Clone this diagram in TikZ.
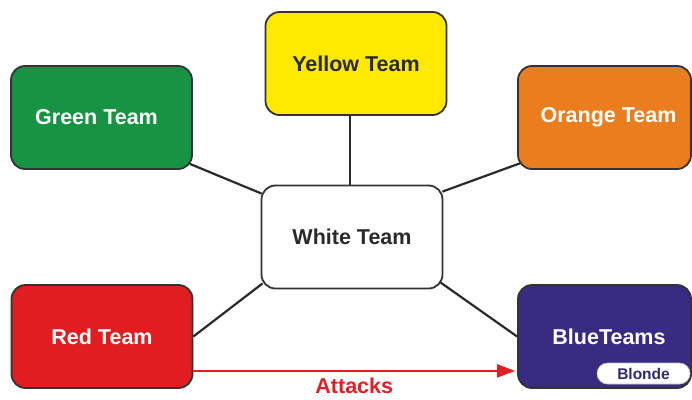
\documentclass[tikz,border=0pt]{standalone}
\usepackage{fontspec}
\setmainfont{Liberation Sans}
\usetikzlibrary{arrows.meta,backgrounds}
\definecolor{cgreen}{HTML}{169443}
\definecolor{cyellow}{HTML}{FFE900}
\definecolor{corange}{HTML}{EA7E1E}
\definecolor{cred}{HTML}{E01E22}
\definecolor{cblue}{HTML}{372C82}
\definecolor{cborder}{HTML}{333333}
\definecolor{ctext}{HTML}{2A2A2A}
\definecolor{carrow}{HTML}{E31E24}
\definecolor{cnavy}{HTML}{2E2A6E}
\tikzset{
  teambox/.style={draw=cborder, line width=1.8pt, rounded corners=14pt,
    minimum width=181pt, minimum height=103pt, inner sep=0pt,
    font=\fontsize{21.5}{25}\selectfont\bfseries},
  linkline/.style={draw=ctext, line width=2.2pt},
}
\begin{document}
\begin{tikzpicture}[x=1pt,y=-1pt]
\useasboundingbox (0,0) rectangle (692,399);
\node[teambox, fill=cyellow, text=ctext] (yellow) at (356,63.5) {\raisebox{-2pt}{Yellow Team}};
\node[teambox, fill=cgreen, text=white] (green) at (101.5,117.5) {Green Team\hspace*{10pt}};
\node[teambox, fill=corange, text=white, minimum width=173pt] (orange) at (604.5,117.5) {\hspace*{8pt}\raisebox{-2pt}{Orange Team}};
\node[teambox, fill=white, text=ctext] (white) at (352,237) {White Team};
\node[teambox, fill=cred, text=white] (red) at (102,336.5) {Red Team};
\node[teambox, fill=cblue, text=white, minimum width=173pt] (blue) at (604.5,336.5) {\hspace*{9pt}BlueTeams};
\node[draw=cborder!30, line width=0.6pt, fill=white, rounded corners=10.5pt,
  minimum width=93pt, minimum height=21pt, inner sep=0pt, text=cnavy,
  font=\fontsize{15.5}{18}\selectfont\bfseries] (blonde) at (643.5,373.5) {Blonde};
\begin{scope}[on background layer]
  \draw[linkline] ([shift={(-3,-6)}]green.south east) -- ([shift={(1,9)}]white.north west);
  \draw[linkline] ([shift={(4,-7)}]orange.south west) -- ([shift={(-1,7)}]white.north east);
  \draw[linkline] (red.east) -- ([shift={(2,-6)}]white.south west);
  \draw[linkline] (blue.west) -- ([shift={(-3,-7)}]white.south east);
  \draw[linkline] ([xshift=-6]yellow.south) -- ([xshift=-6]yellow.south |- white.north);
\end{scope}
\draw[draw=carrow, line width=2pt, -{Triangle[length=18pt,width=13pt]}]
  ([shift={(0,-18)}]red.south east) -- ([shift={(-2,-18)}]blue.south west)
  node[pos=0.5, below=6pt, inner sep=0pt, text=carrow, font=\fontsize{21.5}{25}\selectfont\bfseries] (attacks) {Attacks};
\end{tikzpicture}
\end{document}
